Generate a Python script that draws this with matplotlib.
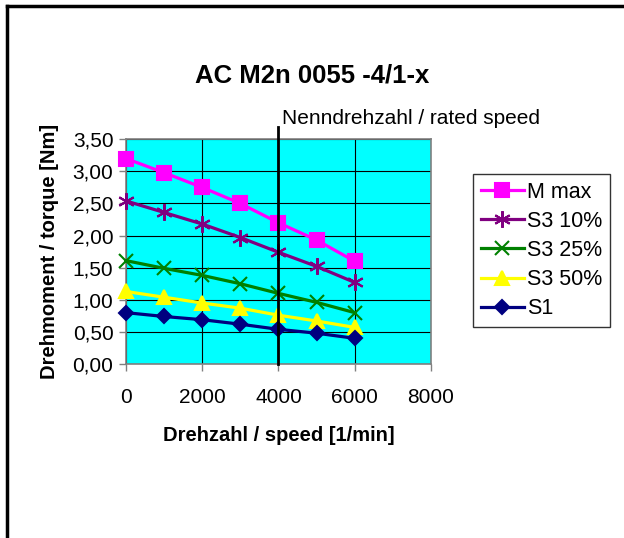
import matplotlib.pyplot as plt
from matplotlib.lines import Line2D
from matplotlib.ticker import FuncFormatter

plt.rcParams['font.family'] = ['Liberation Sans', 'DejaVu Sans']

speed = [0, 1000, 2000, 3000, 4000, 5000, 6000]
m_max = [3.20, 2.98, 2.75, 2.50, 2.20, 1.93, 1.60]
s3_10 = [2.54, 2.36, 2.18, 1.97, 1.74, 1.52, 1.27]
s3_25 = [1.61, 1.49, 1.38, 1.25, 1.10, 0.96, 0.80]
s3_50 = [1.13, 1.04, 0.95, 0.87, 0.76, 0.67, 0.57]
s1 = [0.80, 0.74, 0.69, 0.62, 0.54, 0.48, 0.40]
rated_speed = 4000

series = [
    ('M max', m_max, '#FF00FF', 's', 10),
    ('S3 10%', s3_10, '#800080', (6, 2, 0), 12),
    ('S3 25%', s3_25, '#008000', 'x', 10),
    ('S3 50%', s3_50, '#FFFF00', '^', 10),
    ('S1', s1, '#000080', 'D', 7),
]

fig = plt.figure(figsize=(6.24, 5.38), dpi=100)
ax = fig.add_axes([0.2019, 0.3234, 0.4888, 0.4177])
ax.set_facecolor('#00FFFF')

for name, vals, col, mk, ms in series:
    ax.plot(speed, vals, color=col, marker=mk, markersize=ms, linewidth=2.3,
            markeredgecolor=col, markeredgewidth=1.5, label=name, clip_on=False, zorder=3)

ax.axvline(rated_speed, ymin=0, ymax=1.055, color='black', linewidth=2, clip_on=False, zorder=4)
ax.text(rated_speed + 100, 3.68, 'Nenndrehzahl / rated speed', fontsize=15, va='bottom', ha='left')

ax.set_xlim(0, 8000)
ax.set_ylim(0, 3.5)
ax.set_xticks(range(0, 8001, 2000))
ax.set_yticks([i * 0.5 for i in range(8)])
ax.yaxis.set_major_formatter(FuncFormatter(lambda v, p: f'{v:.2f}'.replace('.', ',')))
ax.grid(True, color='black', linewidth=0.8)
ax.set_axisbelow(True)
ax.tick_params(direction='out', length=5, labelsize=15, width=1, color='#808080')
ax.tick_params(axis='x', pad=12)
ax.tick_params(axis='y', pad=4)
for s in ax.spines.values():
    s.set_color('#808080')
    s.set_linewidth(1.2)

ax.set_xlabel('Drehzahl / speed [1/min]', fontsize=14.5, fontweight='bold', labelpad=14)
ax.set_ylabel('Drehmoment / torque [Nm]', fontsize=14.5, fontweight='bold', labelpad=10)

fig.text(0.50, 1 - 75 / 538, 'AC M2n 0055 -4/1-x', fontsize=18.5, fontweight='bold',
         ha='center', va='center')

leg = fig.legend(loc='upper left', bbox_to_anchor=(473 / 624, 1 - 174 / 538), fontsize=15.5,
                 frameon=True, fancybox=False, edgecolor='black', handlelength=2.0,
                 handletextpad=0.15, borderpad=0.35, labelspacing=0.38, borderaxespad=0)
leg.get_frame().set_linewidth(1)

fig.add_artist(Line2D([7 / 624, 7 / 624], [0, 1 - 6 / 538], color='black', linewidth=2.5,
                      transform=fig.transFigure))
fig.add_artist(Line2D([7 / 624, 1], [1 - 6 / 538, 1 - 6 / 538], color='black', linewidth=2.5,
                      transform=fig.transFigure))

fig.savefig('out.png', dpi=100)
